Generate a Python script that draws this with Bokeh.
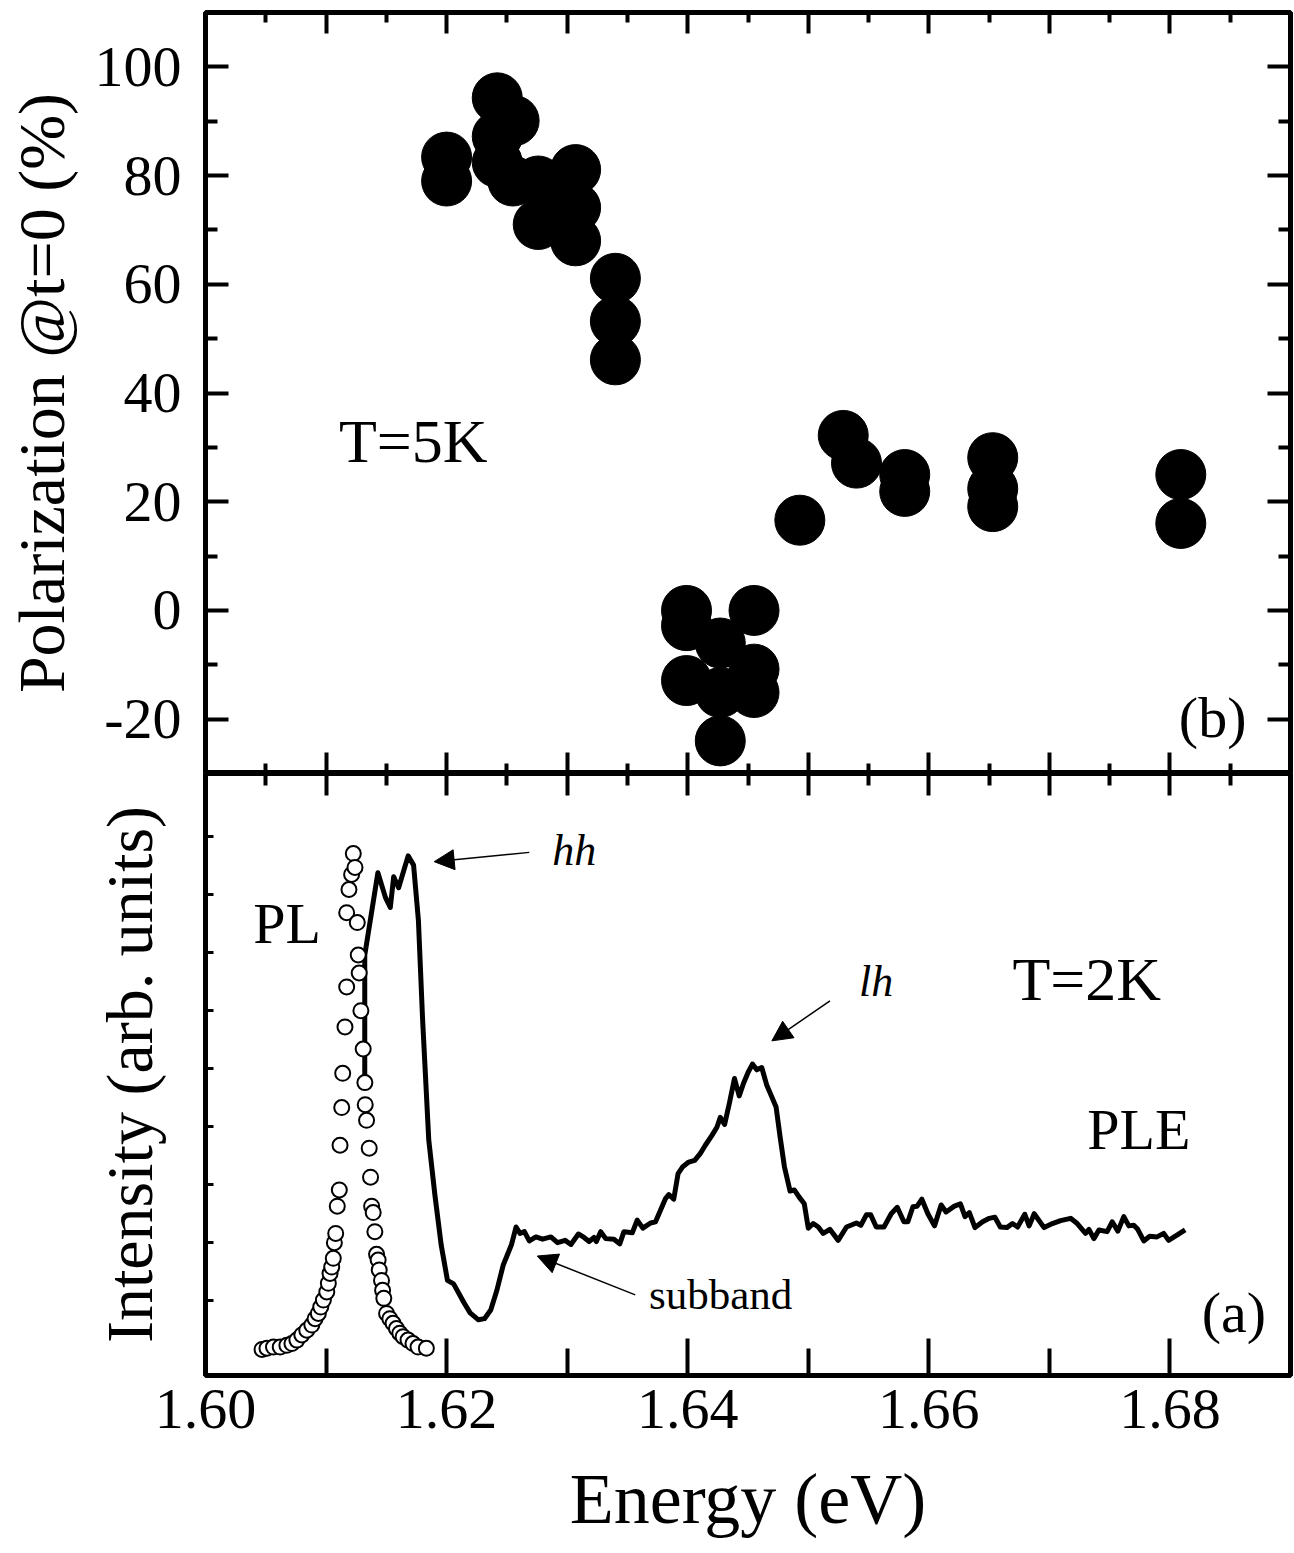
from bokeh.plotting import figure
from bokeh.layouts import column
from bokeh.models import (Range1d, FixedTicker, LinearAxis, Label, Arrow, NormalHead,
                          PrintfTickFormatter, CustomJSTickFormatter)
from bokeh.embed import file_html
from bokeh.resources import INLINE

FONT = "Liberation Serif"

# ---------------- data: panel (b) polarization ----------------
pol_energy = [1.6200, 1.6200, 1.6242, 1.6256, 1.6242, 1.6242, 1.6255, 1.6276, 1.6276,
              1.6307, 1.6307, 1.6307, 1.6340, 1.6340, 1.6340, 1.6399, 1.6399, 1.6399,
              1.6427, 1.6427, 1.6427, 1.6455, 1.6455, 1.6455, 1.6493, 1.6529, 1.6540,
              1.6580, 1.6580, 1.6653, 1.6653, 1.6653, 1.6809, 1.6809]
pol_value = [83.4, 79.0, 94.3, 90.1, 87.2, 82.4, 79.0, 79.0, 71.0,
             81.1, 74.1, 68.0, 61.1, 53.2, 46.1, 0.0, -2.8, -12.9,
             -6.0, -15.1, -24.0, 0.0, -10.8, -15.1, 16.6, 32.2, 27.1,
             25.0, 21.9, 28.1, 22.4, 19.1, 25.0, 16.0]

# ---------------- data: panel (a) PL (open circles) ----------------
pl_energy = [1.60469, 1.60510, 1.60564, 1.60620, 1.60675, 1.60717, 1.60758, 1.60799,
             1.60840, 1.60882, 1.60909, 1.60936, 1.60956, 1.60978, 1.61006, 1.61019,
             1.61033, 1.61047, 1.61060, 1.61069, 1.61080, 1.61093, 1.61110, 1.61116,
             1.61130, 1.61138, 1.61157, 1.61171, 1.61171, 1.61190, 1.61212, 1.61226,
             1.61240, 1.61259, 1.61267, 1.61275, 1.61289, 1.61308, 1.61322, 1.61325,
             1.61336, 1.61358, 1.61369, 1.61378, 1.61391, 1.61405, 1.61419, 1.61432,
             1.61441, 1.61460, 1.61469, 1.61479, 1.61502, 1.61529, 1.61556, 1.61584,
             1.61612, 1.61639, 1.61680, 1.61721, 1.61763, 1.61832]
pl_intensity = [-0.85, -0.83, -0.81, -0.81, -0.78, -0.75, -0.69, -0.60,
                -0.52, -0.43, -0.32, -0.23, -0.12, 0.00, 0.14, 0.29,
                0.46, 0.57, 0.72, 0.99, 1.15, 1.62, 1.90, 2.67,
                3.32, 3.91, 4.71, 5.40, 6.68, 7.08, 7.34, 7.70,
                7.46, 6.51, 5.95, 5.64, 4.99, 4.33, 3.75, 3.37,
                3.10, 2.62, 2.12, 1.62, 1.51, 1.18, 0.79, 0.69,
                0.52, 0.34, 0.17, 0.03, -0.23, -0.32, -0.40, -0.49,
                -0.57, -0.63, -0.69, -0.75, -0.81, -0.83]

# ---------------- data: panel (a) PLE (solid line) ----------------
ple_energy = [1.61321, 1.61321, 1.61430, 1.61493, 1.61533, 1.61561, 1.61602, 1.61681,
              1.61726, 1.61766, 1.61801, 1.61852, 1.61903, 1.61955, 1.62007, 1.62058,
              1.62143, 1.62195, 1.62264, 1.62314, 1.62366, 1.62417, 1.62469, 1.62537,
              1.62576, 1.62609, 1.62645, 1.62686, 1.62741, 1.62796, 1.62865, 1.62920,
              1.62983, 1.63031, 1.63093, 1.63140, 1.63182, 1.63223, 1.63242, 1.63278,
              1.63320, 1.63388, 1.63436, 1.63471, 1.63540, 1.63581, 1.63628, 1.63692,
              1.63733, 1.63774, 1.63816, 1.63843, 1.63884, 1.63920, 1.63959, 1.64008,
              1.64058, 1.64105, 1.64146, 1.64201, 1.64242, 1.64270, 1.64306, 1.64345,
              1.64388, 1.64427, 1.64463, 1.64504, 1.64537, 1.64573, 1.64614, 1.64655,
              1.64692, 1.64733, 1.64766, 1.64802, 1.64849, 1.64884, 1.64923, 1.64967,
              1.65000, 1.65041, 1.65083, 1.65124, 1.65179, 1.65248, 1.65317, 1.65399,
              1.65436, 1.65482, 1.65518, 1.65564, 1.65628, 1.65688, 1.65738, 1.65793,
              1.65826, 1.65868, 1.65903, 1.65942, 1.65992, 1.66047, 1.66102, 1.66143,
              1.66212, 1.66262, 1.66300, 1.66336, 1.66383, 1.66446, 1.66502, 1.66548,
              1.66593, 1.66647, 1.66694, 1.66736, 1.66796, 1.66832, 1.66874, 1.66956,
              1.67025, 1.67093, 1.67176, 1.67231, 1.67300, 1.67328, 1.67369, 1.67411,
              1.67479, 1.67521, 1.67568, 1.67617, 1.67659, 1.67700, 1.67733, 1.67783,
              1.67832, 1.67893, 1.67948, 1.67989, 1.68058, 1.68126]
ple_intensity = [3.88, 5.95, 7.37, 6.94, 6.77, 7.30, 7.11, 7.66,
                 7.50, 6.55, 4.83, 2.76, 1.81, 0.95, 0.34, 0.28,
                 -0.04, -0.22, -0.34, -0.32, -0.17, 0.17, 0.60, 0.95,
                 1.26, 1.15, 1.18, 1.02, 1.09, 1.05, 1.09, 0.99,
                 1.03, 0.96, 1.14, 1.08, 1.01, 1.08, 1.01, 1.18,
                 1.06, 1.05, 0.97, 1.18, 1.16, 1.38, 1.24, 1.33,
                 1.35, 1.55, 1.75, 1.82, 1.74, 2.18, 2.30, 2.38,
                 2.41, 2.53, 2.67, 2.84, 2.98, 3.15, 3.03, 3.39,
                 3.82, 3.52, 3.74, 3.94, 4.07, 3.97, 4.01, 3.71,
                 3.53, 3.33, 2.82, 2.30, 1.88, 1.90, 1.78, 1.66,
                 1.24, 1.32, 1.26, 1.15, 1.22, 1.03, 1.26, 1.33,
                 1.29, 1.47, 1.47, 1.26, 1.26, 1.49, 1.60, 1.35,
                 1.35, 1.61, 1.62, 1.74, 1.49, 1.28, 1.64, 1.52,
                 1.62, 1.66, 1.44, 1.51, 1.25, 1.35, 1.41, 1.43,
                 1.26, 1.25, 1.32, 1.26, 1.48, 1.28, 1.49, 1.25,
                 1.32, 1.37, 1.41, 1.32, 1.15, 1.22, 1.06, 1.21,
                 1.18, 1.35, 1.19, 1.44, 1.28, 1.29, 1.22, 1.02,
                 1.10, 1.09, 1.15, 1.03, 1.12, 1.21]

# ---------------- ticks ----------------
x_ticks_fine = [1.60, 1.61, 1.62, 1.63, 1.64, 1.65, 1.66, 1.67, 1.68, 1.69]
x_minor_fine = [1.605, 1.615, 1.625, 1.635, 1.645, 1.655, 1.665, 1.675, 1.685]
x_ticks_labeled = [1.60, 1.62, 1.64, 1.66, 1.68]
x_minor_labeled = [1.61, 1.63, 1.65, 1.67, 1.69]
pol_ticks = [-20, 0, 20, 40, 60, 80, 100]
pol_minor = [-30, -10, 10, 30, 50, 70, 90, 110]
int_ticks = [0, 1, 2, 3, 4, 5, 6, 7, 8]

# annotation anchors (data coordinates: x_start, y_start, x_end, y_end)
hh_arrow = (1.62686, 7.72, 1.61897, 7.56)
lh_arrow = (1.65180, 5.16, 1.64698, 4.47)
sub_arrow = (1.63565, 0.09, 1.62752, 0.76)

X_RANGE = (1.60, 1.69)


def blank_formatter():
    return CustomJSTickFormatter(code="return ''")


def add_axis(p, side, ticks, minor, t_in, m_in, labeled=False, fmt=None,
             title=None, title_size="58px", label_standoff=0, title_standoff=0, lw=4):
    ax = LinearAxis(ticker=FixedTicker(ticks=ticks, minor_ticks=minor))
    ax.axis_line_color = None
    ax.major_tick_in = t_in
    ax.major_tick_out = 0
    ax.minor_tick_in = m_in
    ax.minor_tick_out = 0
    ax.major_tick_line_width = lw
    ax.minor_tick_line_width = lw
    ax.major_tick_line_color = "black"
    ax.minor_tick_line_color = "black" if m_in > 0 else None
    if labeled:
        if fmt is not None:
            ax.formatter = fmt
        ax.major_label_text_font = FONT
        ax.major_label_text_font_size = "58px"
        ax.major_label_text_color = "black"
        ax.major_label_standoff = label_standoff
    else:
        ax.formatter = blank_formatter()
        ax.major_label_text_font_size = "0px"
        ax.major_label_standoff = label_standoff
    if title:
        ax.axis_label = title
        ax.axis_label_text_font = FONT
        ax.axis_label_text_font_size = title_size
        ax.axis_label_text_font_style = "normal"
        ax.axis_label_text_color = "black"
        ax.axis_label_standoff = title_standoff
    p.add_layout(ax, side)
    return ax


# ---------------- top panel (b) ----------------
p1 = figure(width=1294, height=773, x_range=Range1d(*X_RANGE), y_range=Range1d(-30, 110),
            output_backend="svg", toolbar_location=None,
            x_axis_location=None, y_axis_location=None,
            min_border_left=205, min_border_right=4, min_border_top=12, min_border_bottom=0)
p1.outline_line_color = "black"
p1.outline_line_width = 5
p1.grid.visible = False
p1.background_fill_color = "white"
p1.border_fill_color = "white"

add_axis(p1, "left", pol_ticks, pol_minor, 23, 12, labeled=True,
         fmt=CustomJSTickFormatter(code="return tick.toFixed(0)"),
         title="Polarization @t=0 (%)", title_size="66px", label_standoff=24, title_standoff=14)
add_axis(p1, "right", pol_ticks, pol_minor, 23, 12)
add_axis(p1, "above", x_ticks_fine, x_minor_fine, 21, 10)
add_axis(p1, "below", x_ticks_fine, x_minor_fine, 21, 10)

p1.scatter(pol_energy, pol_value, marker="circle", size=50,
           fill_color="black", line_color="black")

p1.add_layout(Label(x=1.61107, y=31.1, text="T=5K", text_font=FONT, text_font_size="62px",
                    text_align="left", text_baseline="alphabetic", text_color="black"))
p1.add_layout(Label(x=1.68074, y=-19.7, text="(b)", text_font=FONT, text_font_size="58px",
                    text_align="left", text_baseline="alphabetic", text_color="black"))

# ---------------- bottom panel (a) ----------------
p2 = figure(width=1294, height=780, x_range=p1.x_range, y_range=Range1d(-1.3, 9.08),
            output_backend="svg", toolbar_location=None,
            x_axis_location=None, y_axis_location=None,
            min_border_left=205, min_border_right=4, min_border_top=0, min_border_bottom=178)
p2.outline_line_color = "black"
p2.outline_line_width = 5
p2.grid.visible = False
p2.background_fill_color = "white"
p2.border_fill_color = "white"

add_axis(p2, "left", int_ticks, [], 8, 0, title="Intensity (arb. units)", title_size="66px",
         label_standoff=0, title_standoff=40, lw=3)
add_axis(p2, "above", x_ticks_fine, x_minor_fine, 22, 12)
add_axis(p2, "below", x_ticks_labeled, x_minor_labeled, 37, 27, labeled=True,
         fmt=PrintfTickFormatter(format="%.2f"), title="Energy (eV)", title_size="72px",
         label_standoff=14, title_standoff=28)

p2.line(ple_energy, ple_intensity, line_color="black", line_width=5, line_join="round")
p2.scatter(pl_energy, pl_intensity, marker="circle", size=15,
           fill_color="white", line_color="black", line_width=2)

for (xs, ys, xe, ye) in (hh_arrow, lh_arrow, sub_arrow):
    p2.add_layout(Arrow(end=NormalHead(size=20, fill_color="black", line_color="black"),
                        x_start=xs, y_start=ys, x_end=xe, y_end=ye,
                        line_color="black", line_width=1.5))

labels_a = [
    (1.60397, 6.50, "PL", "58px", "normal"),
    (1.66694, 5.54, "T=2K", "62px", "normal"),
    (1.67314, 2.95, "PLE", "58px", "normal"),
    (1.62876, 7.76, "hh", "44px", "italic"),
    (1.65421, 5.50, "lh", "44px", "italic"),
    (1.63678, 0.10, "subband", "43px", "normal"),
    (1.68264, -0.21, "(a)", "58px", "normal"),
]
for (lx, ly, txt, fs, st) in labels_a:
    p2.add_layout(Label(x=lx, y=ly, text=txt, text_font=FONT, text_font_size=fs,
                        text_font_style=st, text_align="left", text_baseline="alphabetic",
                        text_color="black"))

layout = column(p1, p2, spacing=0)
open("out.html", "w").write(file_html(layout, INLINE))
